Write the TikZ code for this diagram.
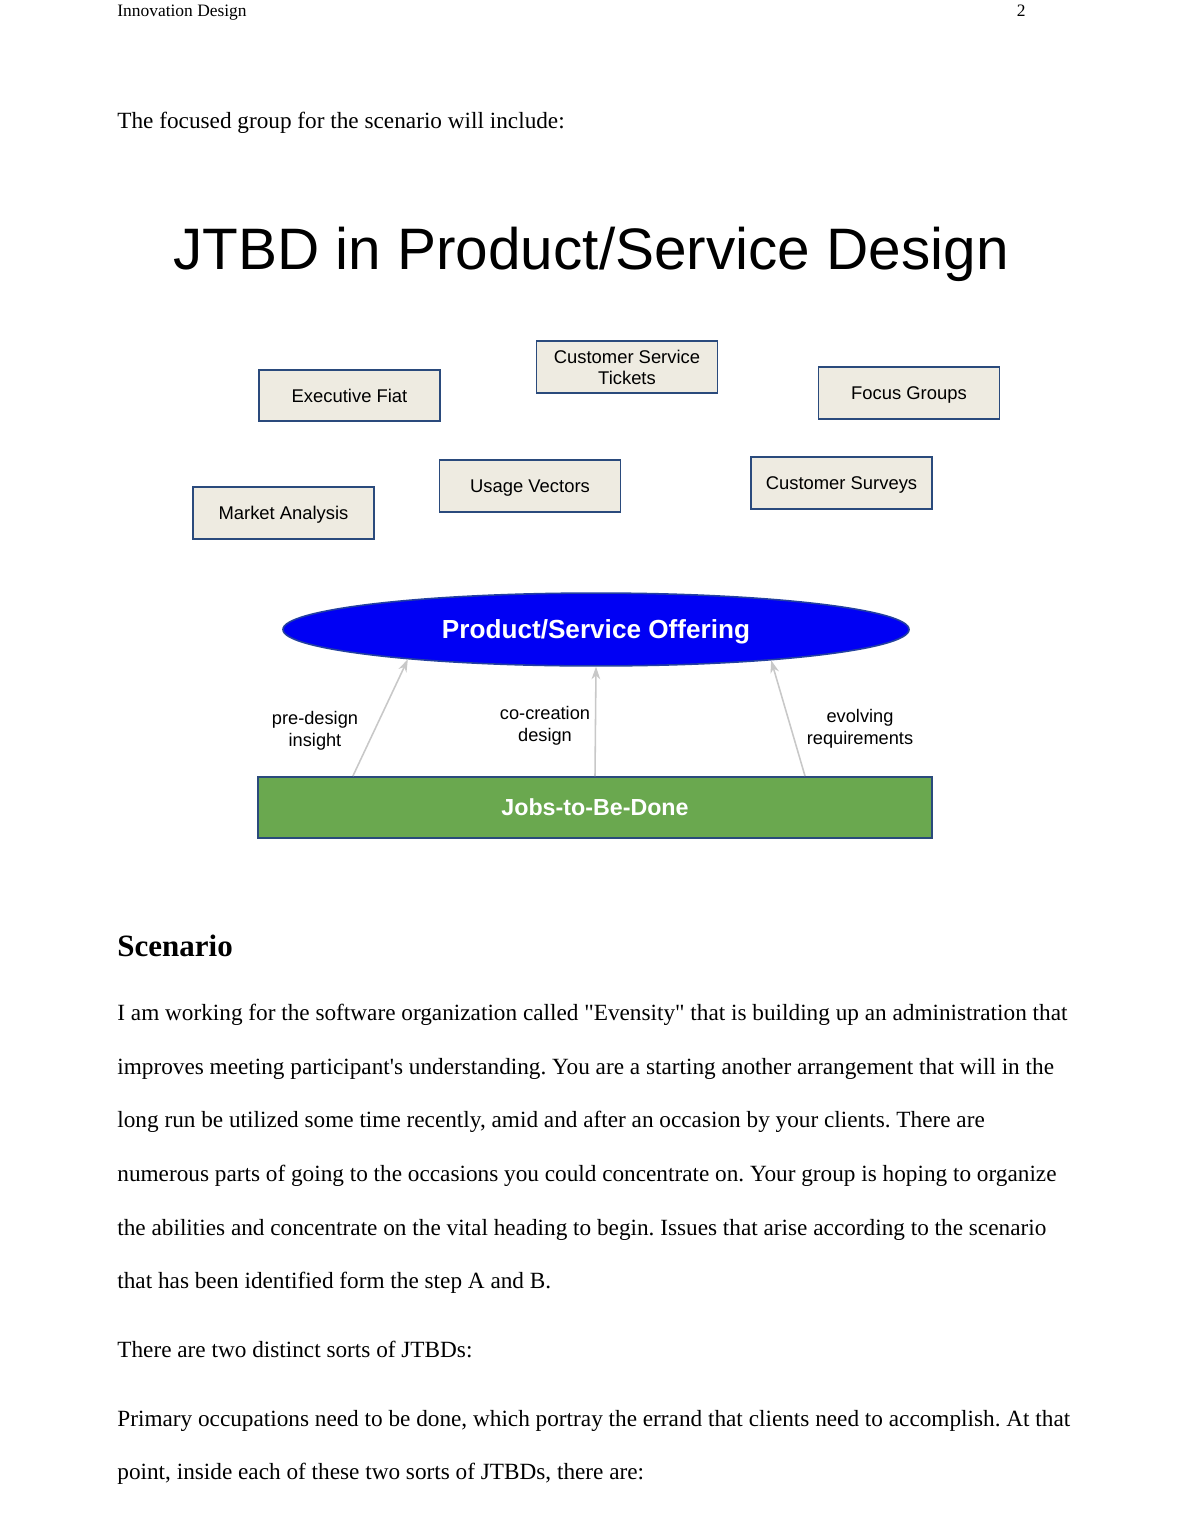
\documentclass[tikz,border=0pt]{standalone}
\usepackage{fontspec}
\setmainfont{Liberation Serif}[Ligatures=TeXOff]
\newfontfamily\arialfont{Liberation Sans}
\usepackage{tikz}
\usetikzlibrary{arrows.meta, positioning, shapes}

\definecolor{boxfill}{HTML}{EEEBE1}
\definecolor{boxline}{HTML}{2A4A7C}
\definecolor{offerblue}{HTML}{0000F4}
\definecolor{offerline}{HTML}{2340A0}
\definecolor{jobsgreen}{HTML}{6AA84F}
\definecolor{arrowgray}{HTML}{C8C8C8}

\frenchspacing

\begin{document}
\begin{tikzpicture}[
            x=0.5143bp, y=-0.5143bp, % one unit = one pixel of the page
            source/.style={draw=boxline, fill=boxfill, line width=1bp, rectangle, minimum width=93.1bp, minimum height=26.7bp, align=center, inner sep=1pt, text depth=0pt, font=\arialfont\fontsize{9.5}{11}\selectfont},
            offer/.style={draw=offerline, fill=offerblue, line width=0.8bp, ellipse, inner sep=0pt, minimum width=322bp, minimum height=37.5bp, text depth=0pt, text=white, font=\arialfont\bfseries\fontsize{13.5}{15}\selectfont},
            jobs/.style={draw=boxline, fill=jobsgreen, line width=1bp, rectangle, minimum width=346.6bp, minimum height=31.4bp, text depth=0pt, text=white, font=\arialfont\bfseries\fontsize{12}{14}\selectfont},
            flow/.style={draw=arrowgray, line width=0.8bp, -{Stealth[length=6.5bp, width=4.5bp]}},
            flowlabel/.style={align=center, inner sep=0pt, font=\arialfont\fontsize{9.4}{11.2}\selectfont},
            bodytext/.style={anchor=base west, inner sep=0pt, font=\fontsize{12}{14}\selectfont}
        ]

        % Page
        \useasboundingbox[fill=white] (0,0) rectangle (1190,1540);

        % Header
        \node[anchor=base west, inner sep=0pt, font=\fontsize{9}{11}\selectfont] (header) at (117,16) {Innovation Design};
        \node[anchor=base east, inner sep=0pt, font=\fontsize{9}{11}\selectfont] (pagenum) at (1026,16) {2};

        \node[bodytext] (intro) at (117,128) {The focused group for the scenario will include:};

        % Title
        \node[anchor=base, inner sep=0pt, font=\arialfont\fontsize{30.2}{34}\selectfont] (title) at (591,269) {JTBD in Product/Service Design};

        % Sources
        \node[source] (exec-fiat) at (349.5,395.5) {Executive Fiat};
        \node[source] (tickets) at (627,367) {Customer Service\\Tickets};
        \node[source] (focus) at (909,393) {Focus Groups};
        \node[source] (market) at (283.5,513) {Market Analysis};
        \node[source] (usage) at (530,486) {Usage Vectors};
        \node[source] (surveys) at (841.5,483) {Customer Surveys};

        % Offering and jobs
        \node[offer] (offering) at (596,629.5) {Product/Service Offering};
        \node[jobs] (jtbd) at (595,807.5) {Jobs-to-Be-Done};

        % Arrows
        \draw[flow] ([xshift=-124.5bp]jtbd.north) -- (offering.189.3);
        \draw[flow] (jtbd.north) -- (offering.south);
        \draw[flow] ([xshift=108bp]jtbd.north) -- (offering.-10);

        % Labels
        \node[flowlabel] (insight) at (315,730.5) {pre-design\\insight};
        \node[flowlabel] (cocreation) at (545,726) {co-creation\\design};
        \node[flowlabel] (evolving) at (860,728.5) {evolving\\requirements};

        % Scenario text
        \node[anchor=base west, inner sep=0pt, font=\bfseries\fontsize{16}{18}\selectfont] (scenario) at (117,956) {Scenario};
        \node[bodytext] (line1) at (117,1020) {I am working for the software organization called "Evensity" that is building up an administration that};
        \node[bodytext] (line2) at (117,1074) {improves meeting participant's understanding. You are a starting another arrangement that will in the};
        \node[bodytext] (line3) at (117,1127) {long run be utilized some time recently, amid and after an occasion by your clients. There are};
        \node[bodytext] (line4) at (117,1181) {numerous parts of going to the occasions you could concentrate on. Your group is hoping to organize};
        \node[bodytext] (line5) at (117,1235) {the abilities and concentrate on the vital heading to begin. Issues that arise according to the scenario};
        \node[bodytext] (line6) at (117,1288) {that has been identified form the step A and B.};
        \node[bodytext] (line7) at (117,1357) {There are two distinct sorts of JTBDs:};
        \node[bodytext] (line8) at (117,1426) {Primary occupations need to be done, which portray the errand that clients need to accomplish. At that};
        \node[bodytext] (line9) at (117,1479) {point, inside each of these two sorts of JTBDs, there are:};

    \end{tikzpicture}
\end{document}
